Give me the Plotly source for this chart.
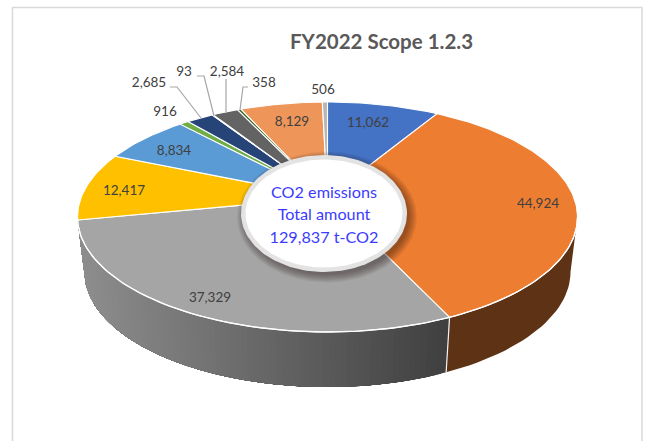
import numpy as np
import plotly.graph_objects as go

# ---------- data ----------
categories = ["A", "B", "C", "D", "E", "F", "G", "H", "I", "J", "K", "L"]
values = [11062, 44924, 37329, 12417, 8834, 916, 2685, 93, 2584, 358, 8129, 506]
colors = ["#4472C4", "#ED7D31", "#A5A5A5", "#FFC000", "#5B9BD5", "#70AD47",
          "#264478", "#9E480E", "#636363", "#43682B", "#EE965A", "#B7B7B7"]
title_text = "FY2022 Scope 1.2.3"
center_lines = ["CO2 emissions", "Total amount", "129,837 t-CO2"]

# ---------- layout geometry (page pixels) ----------
W, H = 646, 441
TOP = dict(cx=327.5, cy=217, a=250, b=115)
BOT = dict(cx=327.5, cy=272, a=243, b=115)
PERSP = 0.17                       # shift of the pie centre caused by perspective
label_xy = [(368, 124), (538, 205), (210, 299), (124, 192), (174, 152), (165, 113),
            (149, 84), (184, 73), (227, 73), (264, 84), (292, 123), (323, 91)]
leaders = {6: [(170, 87), (177, 87), (201, 118)],
           7: [(197, 76), (204, 76), (214, 116)],
           8: [(226, 79), (226, 112)],
           9: [(248, 87), (243, 87), (240, 110)]}
HOLE = dict(cx=324, cy=213.5, a=83, b=58.5)
center_y = [193.5, 216, 238.5]

FONT = "Lato, Carlito, Calibri, sans-serif"
TXT = "#404040"


def project(theta, e=PERSP):
    """Angle on the flat pie -> unit-circle position after perspective."""
    c, s = np.cos(theta), np.sin(theta)
    den = 1 + e * c
    return s * np.sqrt(1 - e * e) / den, (c + e) / den


def on(ell, theta):
    u, v = project(theta)
    return ell["cx"] + ell["a"] * u, ell["cy"] - ell["b"] * v


fig = go.Figure()


def poly(xs, ys, fill, line=None, lw=0.0):
    fig.add_trace(go.Scatter(
        x=list(xs), y=list(ys), mode="lines", fill="toself", fillcolor=fill,
        line=dict(color=line or fill, width=lw),
        hoverinfo="skip", showlegend=False))


def polyline(xs, ys, color, lw):
    fig.add_trace(go.Scatter(x=list(xs), y=list(ys), mode="lines",
                             line=dict(color=color, width=lw),
                             hoverinfo="skip", showlegend=False))


def ellipse(cx, cy, a, b, fill):
    t = np.linspace(0, 2 * np.pi, 181)
    poly(cx + a * np.cos(t), cy + b * np.sin(t), fill)


# angular edges of each slice, clockwise from 12 o'clock
total = sum(values)
cum = np.concatenate([[0], np.cumsum(values)]) / total * 2 * np.pi

# ---------- side wall ----------
t_b_end = cum[2]        # orange / grey boundary
t_g_end = cum[3]        # grey / yellow boundary
right_vis = np.arctan2(np.sqrt(1 - PERSP ** 2), -PERSP)  # where the outline is rightmost
left_vis = 2 * np.pi - right_vis


def wall(t0, t1, fill, n=30):
    t = np.linspace(t0, t1, n)
    xt, yt = on(TOP, t)
    xb, yb = on(BOT, t)
    poly(np.r_[xt, xb[::-1]], np.r_[yt, yb[::-1]], fill)


wall(right_vis, t_b_end, "#5E3214")
# horizontal gradient on the grey wall: overlapping bands painted right to left
stop = min(t_g_end, left_vis)
edges = np.linspace(t_b_end, stop, 90)
for t0 in edges[:-1]:
    x_pt = on(BOT, np.array([t0]))[0][0]
    f = np.clip((x_pt - 85) / (447 - 85), 0, 1)
    g = int(round(0x8E + (0x40 - 0x8E) * f))
    wall(t0, stop, f"rgb({g},{g},{g})", n=120)
xt, yt = on(TOP, np.array([t_b_end]))
xb, yb = on(BOT, np.array([t_b_end]))
polyline([xt[0], xb[0]], [yt[0], yb[0]], "#F2F2F2", 1.2)

# ---------- top face ----------
apex = (TOP["cx"], TOP["cy"] - TOP["b"] * PERSP)
for i in range(len(values)):
    n = max(3, int((cum[i + 1] - cum[i]) * 60))
    t = np.linspace(cum[i], cum[i + 1], n)
    x, y = on(TOP, t)
    poly(np.r_[apex[0], x, apex[0]], np.r_[apex[1], y, apex[1]], colors[i],
         line="#FFFFFF", lw=1.1 if values[i] > 200 else 0.6)

# white rim along the front
t = np.linspace(right_vis, left_vis, 120)
polyline(*on(TOP, t), "#FFFFFF", 1.3)

# ---------- centre badge with soft shadow ----------
for k in range(9):
    ellipse(HOLE["cx"] + 3, HOLE["cy"] + 3.5, HOLE["a"] + 7 - k, HOLE["b"] + 7 - k,
            "rgba(40,25,15,0.055)")
ellipse(HOLE["cx"], HOLE["cy"], HOLE["a"], HOLE["b"], "#E3E3E3")
ellipse(HOLE["cx"], HOLE["cy"], HOLE["a"] - 4.5, HOLE["b"] - 4.5, "#FFFFFF")

# ---------- leader lines ----------
for pts in leaders.values():
    polyline([p[0] for p in pts], [p[1] for p in pts], "#A6A6A6", 1.2)

# ---------- labels ----------
fig.add_trace(go.Scatter(
    x=[p[0] for p in label_xy], y=[p[1] for p in label_xy], mode="text",
    text=[f"{v:,}" for v in values], textposition="middle center",
    textfont=dict(family=FONT, size=13.5, color=TXT),
    hoverinfo="skip", showlegend=False))
fig.add_trace(go.Scatter(
    x=[HOLE["cx"]] * 3, y=center_y, mode="text", text=center_lines,
    textposition="middle center",
    textfont=dict(family=FONT, size=16.2, color="#3B3BFF"),
    hoverinfo="skip", showlegend=False))

fig.update_layout(
    width=W, height=H, margin=dict(l=0, r=0, t=0, b=0),
    paper_bgcolor="white", plot_bgcolor="white", showlegend=False,
    xaxis=dict(range=[0, W], visible=False, fixedrange=True),
    yaxis=dict(range=[H, 0], visible=False, fixedrange=True),
    annotations=[dict(text=f"<b>{title_text}</b>", x=381, y=40.5, xref="x", yref="y",
                      showarrow=False, font=dict(family=FONT, size=20.5, color="#595959"))],
    shapes=[dict(type="path", xref="x", yref="y",
                 path="M 12.5 441 L 12.5 7.5 L 642 7.5 L 642 441",
                 line=dict(color="#D9D9D9", width=1.5), layer="below")],
)
fig.write_html("out.html", config=dict(displayModeBar=False),
               post_script="document.body.style.margin='0';")
